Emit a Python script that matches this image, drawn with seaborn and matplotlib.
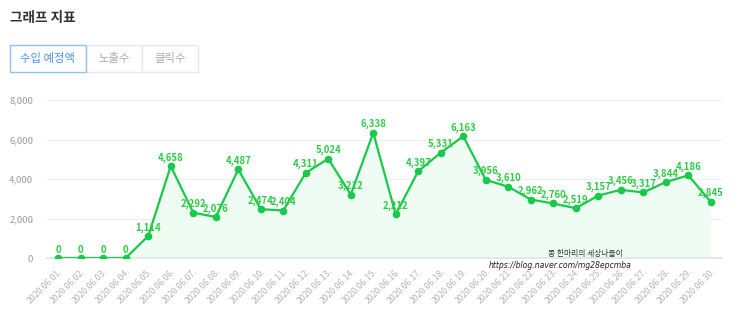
import matplotlib
matplotlib.use("Agg")
import matplotlib.pyplot as plt
import matplotlib.patches as mpatches
import seaborn as sns
import pandas as pd

dates = [f"2020.06.{d:02d}." for d in range(1, 31)]
revenue = [0, 0, 0, 0, 1114, 4658, 2292, 2076, 4487, 2474, 2404, 4311, 5024, 3212,
           6338, 2212, 4397, 5331, 6163, 3956, 3610, 2962, 2760, 2519, 3157, 3456,
           3317, 3844, 4186, 2845]
y_ticks = [0, 2000, 4000, 6000, 8000]
tabs = ["수입 예정액", "노출수", "클릭수"]
title = "그래프 지표"

sns.set_theme(style="white")
plt.rcParams["font.family"] = ["Noto Sans CJK KR", "DejaVu Sans"]

GREEN = "#19c94a"
LABEL_GREEN = "#2dcc45"

W, H = 743, 335
fig = plt.figure(figsize=(W / 100, H / 100), dpi=100)
fig.patch.set_facecolor("white")

def fx(px):
    return px / W

def fy(py):
    return 1 - py / H

# header and tab buttons
fig.text(fx(10), fy(18), title, fontsize=9.8, fontweight="bold", color="#333333",
         va="center", ha="left")
tab_boxes = [(10, 86), (86, 142), (142, 198)]
for i, (label, (x0, x1)) in enumerate(zip(tabs, tab_boxes)):
    active = i == 0
    rect = mpatches.Rectangle((fx(x0), fy(72)), fx(x1 - x0), (72 - 45) / H,
                              transform=fig.transFigure, facecolor="white",
                              edgecolor="#8fc1f5" if active else "#e8e8e8",
                              linewidth=1.0, zorder=2 if active else 1)
    fig.patches.append(rect)
    fig.text(fx((x0 + x1) / 2), fy(58.5), label, fontsize=8.2,
             color="#4a94e8" if active else "#aaaaaa", ha="center", va="center")

# chart area
left, right, top, bottom = 47, 722, 100, 258
ax = fig.add_axes([fx(left), fy(bottom), fx(right - left), (bottom - top) / H])
df = pd.DataFrame({"date": dates, "value": revenue})

ax.fill_between(range(len(dates)), revenue, 0, color="#eefcf2", alpha=0.9,
                linewidth=0, zorder=1)
sns.lineplot(data=df, x="date", y="value", ax=ax, color=GREEN, linewidth=1.6,
             marker="o", markersize=5.5, markeredgewidth=0, zorder=3, sort=False)

for i, v in enumerate(revenue):
    ax.annotate(f"{v:,}", (i, v), xytext=(0, 2.5), textcoords="offset points",
                ha="center", va="bottom", fontsize=6.9, fontweight="bold",
                color=LABEL_GREEN, zorder=4)

ax.set_xlim(-0.5, len(dates) - 0.5)
ax.set_ylim(0, 8000)
ax.set_yticks(y_ticks)
ax.set_yticklabels([f"{t:,}" for t in y_ticks], fontsize=6.8, color="#9a9a9a")
ax.set_xticks([i - 0.5 for i in range(len(dates) + 1)], minor=False)
ax.set_xticklabels([""] * (len(dates) + 1))
ax.set_xticks(range(len(dates)), minor=True)
ax.set_xticklabels(dates, minor=True, rotation=45, ha="right", va="top",
                   fontsize=6.3, color="#b4b4bc", rotation_mode="anchor")
ax.tick_params(axis="x", which="major", length=5, color="#dde3ef", width=1,
               direction="out")
ax.tick_params(axis="x", which="minor", length=0, pad=6)
ax.tick_params(axis="y", length=0, pad=10)
ax.set_xlabel("")
ax.set_ylabel("")
ax.grid(axis="y", color="#eef0f4", linewidth=1)
ax.set_axisbelow(True)
for s in ["top", "right", "left"]:
    ax.spines[s].set_visible(False)
ax.spines["bottom"].set_color("#dde3ef")
ax.spines["bottom"].set_linewidth(1.2)
ax.set_facecolor("none")

# blog signature
fig.text(fx(585), fy(254), "콩 한마리의 세상나들이", fontsize=5.6, color="#333333",
         ha="center", va="center")
fig.text(fx(560), fy(266), "https://blog.naver.com/mg28epcmba", fontsize=5.6,
         color="#222222", ha="center", va="center", style="italic",
         family=["DejaVu Sans"])

fig.savefig("out.png", dpi=100, facecolor="white")
